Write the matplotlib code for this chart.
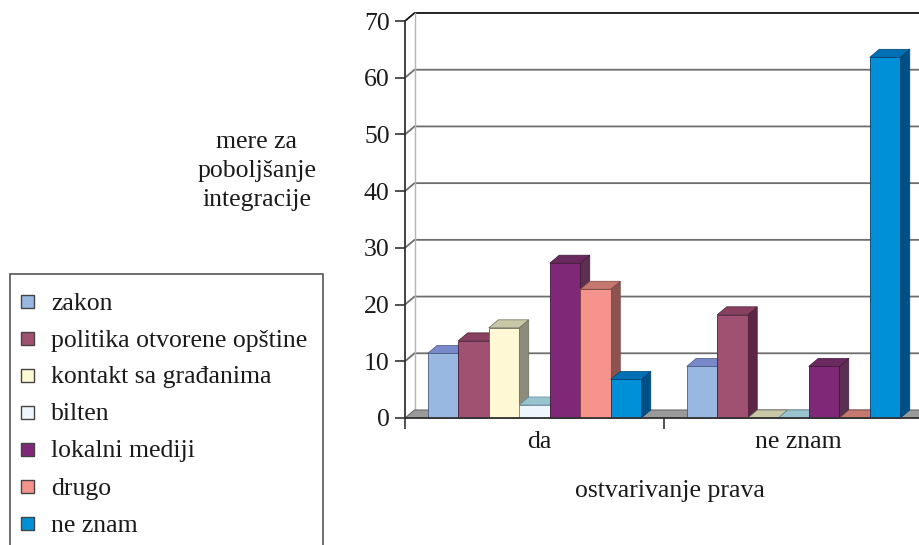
import matplotlib
matplotlib.use("Agg")
import matplotlib.pyplot as plt
from matplotlib.patches import Polygon, Rectangle
from matplotlib.transforms import ScaledTranslation

plt.rcParams['font.family'] = ['Liberation Serif', 'DejaVu Serif']

# ---- data -------------------------------------------------------------
categories = ["da", "ne znam"]
series = ["zakon", "politika otvorene opštine", "kontakt sa građanima",
          "bilten", "lokalni mediji", "drugo", "ne znam"]
values_da = [11.4, 13.6, 15.9, 2.3, 27.3, 22.7, 6.8]
values_ne_znam = [9.1, 18.2, 0.0, 0.0, 9.1, 0.0, 63.6]
y_ticks = [0, 10, 20, 30, 40, 50, 60, 70]

front_colors = ["#98b8e2", "#a05070", "#fff8d4", "#eef6fc", "#802878", "#f4948c", "#0090d8"]
top_colors = ["#7888c8", "#88405e", "#c8c8a8", "#98c4d0", "#6a2a60", "#c4786e", "#0070b4"]
side_colors = ["#5a6e9c", "#5e2545", "#8c8c7c", "#7aa0b0", "#5a3050", "#8c5450", "#005088"]
edge_colors = ["#4a5a80", "#4a2038", "#6a6a5a", "#6a8a9a", "#401838", "#7a4440", "#004070"]

FS = 18.5
TXT = "#1a1a1a"

# ---- figure / axes geometry (pixels) ----------------------------------
W, H = 920, 545
fig = plt.figure(figsize=(W / 100, H / 100), dpi=100)
fig.patch.set_facecolor("white")


def fx(px):
    return px / W


def fy(py):
    return 1 - py / H


AX_L, AX_R, AX_T, AX_B = 405, 923, 21, 418
ax = fig.add_axes([fx(AX_L), fy(AX_B), (AX_R - AX_L) / W, (AX_B - AX_T) / H])
XMIN, XMAX, YMIN, YMAX = -0.5, 1.5, 0, 70
ax.set_xlim(XMIN, XMAX)
ax.set_ylim(YMIN, YMAX)
ax.patch.set_visible(False)

# depth of the 3-D box, converted from pixels into data units
DEPTH_PX_X, DEPTH_PX_Y = 9.5, 8.0
DX = DEPTH_PX_X * (XMAX - XMIN) / (AX_R - AX_L)
DY = DEPTH_PX_Y * (YMAX - YMIN) / (AX_B - AX_T)

# back wall: gridlines with short diagonals back from the front axis
for v in y_ticks[1:]:
    col = "#111111" if v == YMAX else "#6e6e6e"
    ax.plot([XMIN, XMIN + DX, XMAX + DX], [v, v + DY, v + DY],
            color=col, lw=1.3, clip_on=False, zorder=1)
ax.plot([XMIN + DX, XMIN + DX], [DY, YMAX + DY], color="#b4b4b4",
        lw=1.0, clip_on=False, zorder=1)

# floor
ax.add_patch(Polygon([(XMIN, 0), (XMAX, 0), (XMAX + DX, DY), (XMIN + DX, DY)],
                     closed=True, facecolor="#9a9a9a", edgecolor="#6a6a6a",
                     lw=0.8, clip_on=False, zorder=1.5))

# ---- bars -------------------------------------------------------------
n = len(series)
bar_w = 0.1178
x_pos = list(range(len(categories)))
for i, name in enumerate(series):
    vals = [values_da[i], values_ne_znam[i]]
    lefts = [c + (i - n / 2) * bar_w for c in x_pos]
    z = 3 + i * 0.1
    for left, h in zip(lefts, vals):
        top = Polygon([(left, h), (left + bar_w, h),
                       (left + bar_w + DX, h + DY), (left + DX, h + DY)],
                      closed=True, facecolor=top_colors[i],
                      edgecolor=edge_colors[i], lw=0.5, clip_on=False, zorder=z)
        side = Polygon([(left + bar_w, 0), (left + bar_w + DX, DY),
                        (left + bar_w + DX, h + DY), (left + bar_w, h)],
                       closed=True, facecolor=side_colors[i],
                       edgecolor=edge_colors[i], lw=0.5, clip_on=False, zorder=z)
        ax.add_patch(side)
        ax.add_patch(top)
    ax.bar(lefts, vals, width=bar_w, align="edge", color=front_colors[i],
           edgecolor=edge_colors[i], linewidth=0.6, zorder=z + 0.05,
           label=name, clip_on=False)

# ---- axes styling -----------------------------------------------------
for s in ("top", "right"):
    ax.spines[s].set_visible(False)
for s in ("left", "bottom"):
    ax.spines[s].set_color("#333333")
    ax.spines[s].set_linewidth(1.3)
    ax.spines[s].set_zorder(10)

ax.set_yticks(y_ticks)
ax.set_yticklabels([str(t) for t in y_ticks])
ax.tick_params(axis="y", length=7, width=1.2, color="#333333", pad=4,
               labelsize=FS, labelcolor=TXT)
ax.set_xticks(x_pos)
ax.set_xticklabels(categories)
ax.set_xticks([XMIN, 0.5, XMAX], minor=True)
ax.tick_params(axis="x", which="major", length=0, pad=9,
               labelsize=FS, labelcolor=TXT)
ax.tick_params(axis="x", which="minor", length=8, width=1.2, color="#333333")
# category names sit under the middle of the floor depth
for lab in ax.get_xticklabels():
    lab.set_transform(lab.get_transform()
                      + ScaledTranslation(DEPTH_PX_X / 2 / 100, 0, fig.dpi_scale_trans))

# axis titles
fig.text(fx(257), fy(171), "mere za\npoboljšanje\nintegracije", ha="center",
         va="center", multialignment="center", fontsize=FS, linespacing=1.4,
         color=TXT)
fig.text(fx(670), fy(491), "ostvarivanje prava", ha="center", va="center",
         fontsize=FS, color=TXT)

# ---- legend box -------------------------------------------------------
fig.add_artist(Rectangle((fx(10), fy(600)), (323 - 10) / W, (600 - 274) / H,
                         transform=fig.transFigure, facecolor="white",
                         edgecolor="#555555", lw=1.2))
row0, row_step = 301, 37
sq = 13
for i, name in enumerate(series):
    yc = row0 + i * row_step
    fig.add_artist(Rectangle((fx(28 - sq / 2), fy(yc + sq / 2)), sq / W, sq / H,
                             transform=fig.transFigure,
                             facecolor=front_colors[i], edgecolor="#444444",
                             lw=1.0))
    fig.text(fx(51), fy(yc), name, ha="left", va="center_baseline",
             fontsize=FS, color=TXT)

fig.savefig("out.png", dpi=100)
